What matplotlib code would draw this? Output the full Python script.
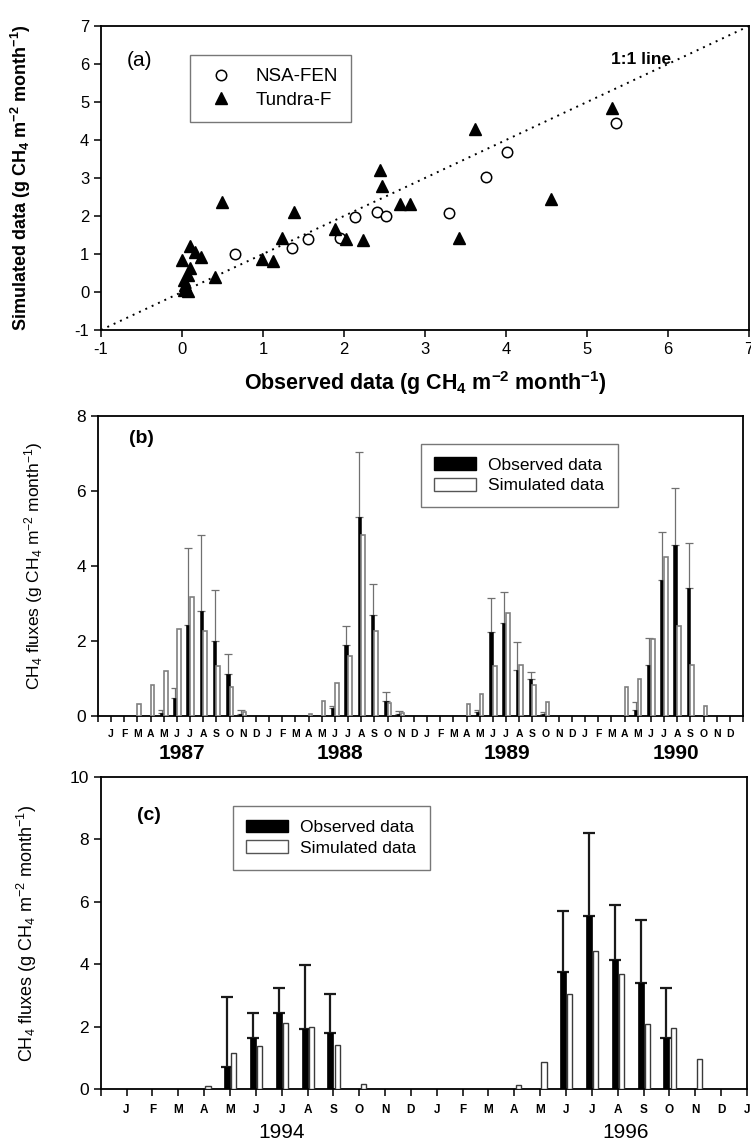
import matplotlib
matplotlib.use('Agg')
import matplotlib.pyplot as plt
import matplotlib.transforms as mtransforms
from matplotlib.patches import Patch
import numpy as np

plt.rcParams['font.family'] = ['Liberation Sans', 'DejaVu Sans']
plt.rcParams['mathtext.fontset'] = 'custom'
plt.rcParams['mathtext.rm'] = 'Liberation Sans'
plt.rcParams['mathtext.it'] = 'Liberation Sans:italic'
plt.rcParams['mathtext.bf'] = 'Liberation Sans:bold'
plt.rcParams['axes.unicode_minus'] = False

# ---------------- Panel (a) data ----------------
nsa_obs = [0.65, 1.36, 1.55, 1.95, 2.14, 2.41, 2.52, 3.30, 3.75, 4.01, 5.36]
nsa_sim = [0.99, 1.15, 1.39, 1.41, 1.98, 2.10, 2.01, 2.09, 3.03, 3.69, 4.45]
tun_obs = [0.00, 0.10, 0.16, 0.23, 0.10, 0.07, 0.02, 0.04, 0.03, 0.07, 0.41, 0.49,
           0.99, 1.12, 1.24, 1.38, 1.89, 2.03, 2.24, 2.45, 2.47, 2.69, 2.81, 3.42,
           3.62, 4.56, 5.31]
tun_sim = [0.84, 1.22, 1.05, 0.92, 0.62, 0.45, 0.32, 0.18, 0.05, 0.03, 0.39, 2.38,
           0.87, 0.82, 1.42, 2.10, 1.65, 1.39, 1.37, 3.22, 2.80, 2.31, 2.31, 1.42,
           4.29, 2.45, 4.85]

# ---------------- Panel (b) data (J..D) ----------------
months = ['J', 'F', 'M', 'A', 'M', 'J', 'J', 'A', 'S', 'O', 'N', 'D']
years_b = ['1987', '1988', '1989', '1990']
obs_1987 = [0, 0, 0, 0, 0.08, 0.47, 2.43, 2.80, 2.00, 1.10, 0.05, 0]
up_1987 = [0, 0, 0, 0, 0.16, 0.73, 4.47, 4.81, 3.35, 1.64, 0.15, 0]
sim_1987 = [0, 0, 0.30, 0.81, 1.19, 2.32, 3.16, 2.25, 1.33, 0.75, 0.10, 0]
obs_1988 = [0, 0, 0, 0, 0, 0.20, 1.87, 5.31, 2.68, 0.40, 0.05, 0]
up_1988 = [0, 0, 0, 0, 0, 0.25, 2.38, 7.04, 3.52, 0.64, 0.12, 0]
sim_1988 = [0, 0, 0, 0.04, 0.39, 0.87, 1.60, 4.82, 2.25, 0.33, 0.08, 0]
obs_1989 = [0, 0, 0, 0, 0.10, 2.23, 2.47, 1.22, 0.97, 0.05, 0, 0]
up_1989 = [0, 0, 0, 0, 0.16, 3.14, 3.29, 1.96, 1.15, 0.10, 0, 0]
sim_1989 = [0, 0, 0, 0.32, 0.57, 1.33, 2.74, 1.35, 0.81, 0.37, 0, 0]
obs_1990 = [0, 0, 0, 0, 0.15, 1.35, 3.62, 4.55, 3.41, 0, 0, 0]
up_1990 = [0, 0, 0, 0, 0.37, 2.07, 4.89, 6.07, 4.62, 0, 0, 0]
sim_1990 = [0, 0, 0, 0.75, 0.98, 2.05, 4.23, 2.38, 1.35, 0.25, 0, 0]

# ---------------- Panel (c) data (J..D) ----------------
years_c = ['1994', '1996']
obs_1994 = [0, 0, 0, 0, 0.70, 1.63, 2.43, 1.92, 1.79, 0, 0, 0]
up_1994 = [0, 0, 0, 0, 2.96, 2.45, 3.25, 3.97, 3.04, 0, 0, 0]
sim_1994 = [0, 0, 0, 0.11, 1.14, 1.37, 2.11, 2.00, 1.42, 0.16, 0, 0]
obs_1996 = [0, 0, 0, 0, 0, 3.76, 5.53, 4.15, 3.39, 1.63, 0, 0]
up_1996 = [0, 0, 0, 0, 0, 5.70, 8.22, 5.91, 5.43, 3.25, 0, 0]
sim_1996 = [0, 0, 0, 0.13, 0.88, 3.03, 4.43, 3.67, 2.07, 1.97, 0.95, 0]

W, H = 751, 1143
fig = plt.figure(figsize=(W / 100, H / 100), dpi=100)


def rect(l, r, t, b):
    return [l / W, 1 - b / H, (r - l) / W, (b - t) / H]


def style_axes(ax, ls=12):
    for s in ax.spines.values():
        s.set_linewidth(1.3)
        s.set_color('black')
    ax.tick_params(direction='out', length=5, width=1.1, top=False, right=False,
                   labelsize=ls, colors='black')


unit = r'(g CH$_\mathbf{4}$ m$^\mathbf{-2}$ month$^\mathbf{-1}$)'
unit_r = r'(g CH$_4$ m$^{-2}$ month$^{-1}$)'

# ================= Panel (a) =================
axA = fig.add_axes(rect(101, 749, 26, 330))
style_axes(axA, 12)
axA.plot([-1, 7], [-1, 7], ls=(0, (1, 2.6)), color='black', lw=1.4)
axA.plot(nsa_obs, nsa_sim, 'o', ls='none', mfc='white', mec='black', mew=1.1,
         ms=7.5, label='NSA-FEN')
axA.plot(tun_obs, tun_sim, '^', ls='none', color='black', ms=8, label='Tundra-F')
axA.set_xlim(-1, 7)
axA.set_ylim(-1, 7)
axA.set_xticks(range(-1, 8))
axA.set_yticks(range(-1, 8))
axA.set_xlabel('Observed data ' + unit, fontsize=15.5, fontweight='bold')
axA.set_ylabel('Simulated data ' + unit, fontsize=13, fontweight='bold')
axA.xaxis.set_label_coords(0.5, -0.13)
axA.yaxis.set_label_coords(-0.105, 0.5)
axA.text(0.059, 0.888, '(a)', transform=axA.transAxes, fontsize=15,
         ha='center', va='center')
axA.text(5.67, 6.12, '1:1 line', fontsize=12.5, fontweight='bold',
         ha='center', va='center')
legA = axA.legend(loc='upper left', bbox_to_anchor=(0.137, 0.905), fontsize=13.5,
                  frameon=True, fancybox=False, borderpad=0.7, handletextpad=0.9,
                  labelspacing=0.35, borderaxespad=0, handlelength=1.9)
legA.get_frame().set_edgecolor('#555555')
legA.get_frame().set_linewidth(1.0)

# ================= Panel (b) =================
axB = fig.add_axes(rect(98, 743, 416, 715.5))
style_axes(axB, 12.5)
obs_b = np.array(obs_1987 + obs_1988 + obs_1989 + obs_1990)
up_b = np.array(up_1987 + up_1988 + up_1989 + up_1990)
sim_b = np.array(sim_1987 + sim_1988 + sim_1989 + sim_1990)
kb = np.arange(1, len(obs_b) + 1)
wb = 0.28
m_o = obs_b > 0
m_s = sim_b > 0
axB.bar(kb[m_o] - wb / 2, obs_b[m_o], width=wb, color='black', edgecolor='black',
        lw=0.4, zorder=3)
axB.bar(kb[m_s] + wb / 2, sim_b[m_s], width=wb, color='white', edgecolor='#808080',
        lw=1.2, zorder=3)
axB.errorbar(kb[m_o] - wb / 2, obs_b[m_o],
             yerr=[np.zeros(m_o.sum()), up_b[m_o] - obs_b[m_o]],
             fmt='none', ecolor='#707070', elinewidth=0.9, capsize=2.6,
             capthick=0.9, zorder=2)
axB.set_xlim(0, 49)
axB.set_ylim(0, 8)
axB.set_yticks([0, 2, 4, 6, 8])
axB.set_xticks(range(0, 50))
axB.set_xticklabels([''] + months * 4 + [''], fontsize=7.5, fontweight='bold')
axB.tick_params(axis='x', length=4, pad=6)
transB = mtransforms.blended_transform_factory(axB.transData, axB.transAxes)
for yr, xc in zip(years_b, [6.4, 18.4, 31.1, 43.9]):
    axB.text(xc, -0.127, yr, transform=transB, ha='center', va='center',
             fontsize=15, fontweight='bold')
axB.set_ylabel('CH$_4$ fluxes ' + unit_r, fontsize=12.5)
axB.yaxis.set_label_coords(-0.082, 0.5)
axB.text(0.068, 0.925, '(b)', transform=axB.transAxes, fontsize=14,
         fontweight='bold', ha='center', va='center')
hB = [Patch(facecolor='black', edgecolor='black', label='Observed data'),
      Patch(facecolor='white', edgecolor='#555555', label='Simulated data')]
legB = axB.legend(handles=hB, loc='upper left', bbox_to_anchor=(0.50, 0.908),
                  fontsize=12.5, frameon=True, fancybox=False, borderpad=0.8,
                  handlelength=2.4, handleheight=0.75, handletextpad=0.7,
                  labelspacing=0.3, borderaxespad=0)
legB.get_frame().set_edgecolor('#555555')
legB.get_frame().set_linewidth(1.0)

# ================= Panel (c) =================
axC = fig.add_axes(rect(100.7, 747, 777, 1089))
style_axes(axC, 12.5)
obs_c = np.array(obs_1994 + obs_1996)
up_c = np.array(up_1994 + up_1996)
sim_c = np.array(sim_1994 + sim_1996)
kc = np.arange(1, len(obs_c) + 1)
wo, ws = 0.23, 0.2
m_o = obs_c > 0
m_s = sim_c > 0
axC.bar(kc[m_o] - wo / 2, obs_c[m_o], width=wo, color='black', edgecolor='black',
        lw=0.5, zorder=3)
axC.bar(kc[m_s] + 0.05 + ws / 2, sim_c[m_s], width=ws, color='white',
        edgecolor='#3a3a3a', lw=1.0, zorder=3)
axC.errorbar(kc[m_o] - wo / 2, obs_c[m_o],
             yerr=[np.zeros(m_o.sum()), up_c[m_o] - obs_c[m_o]],
             fmt='none', ecolor='#1a1a1a', elinewidth=1.6, capsize=4.5,
             capthick=1.6, zorder=2)
axC.set_xlim(0, 25)
axC.set_ylim(0, 10)
axC.set_yticks([0, 2, 4, 6, 8, 10])
axC.set_xticks(range(0, 26))
axC.set_xticklabels([''] + months * 2 + ['J'], fontsize=8.5, fontweight='bold')
axC.tick_params(axis='x', length=5, pad=6)
transC = mtransforms.blended_transform_factory(axC.transData, axC.transAxes)
for yr, xc in zip(years_c, [7.0, 20.3]):
    axC.text(xc, -0.138, yr, transform=transC, ha='center', va='center',
             fontsize=15)
axC.set_ylabel('CH$_4$ fluxes ' + unit_r, fontsize=13)
axC.yaxis.set_label_coords(-0.095, 0.5)
axC.text(0.074, 0.875, '(c)', transform=axC.transAxes, fontsize=14,
         fontweight='bold', ha='center', va='center')
hC = [Patch(facecolor='black', edgecolor='black', label='Observed data'),
      Patch(facecolor='white', edgecolor='#555555', label='Simulated data')]
legC = axC.legend(handles=hC, loc='upper left', bbox_to_anchor=(0.204, 0.908),
                  fontsize=12.5, frameon=True, fancybox=False, borderpad=0.8,
                  handlelength=2.4, handleheight=0.75, handletextpad=0.7,
                  labelspacing=0.3, borderaxespad=0)
legC.get_frame().set_edgecolor('#555555')
legC.get_frame().set_linewidth(1.0)

fig.savefig('out.png', dpi=100)
